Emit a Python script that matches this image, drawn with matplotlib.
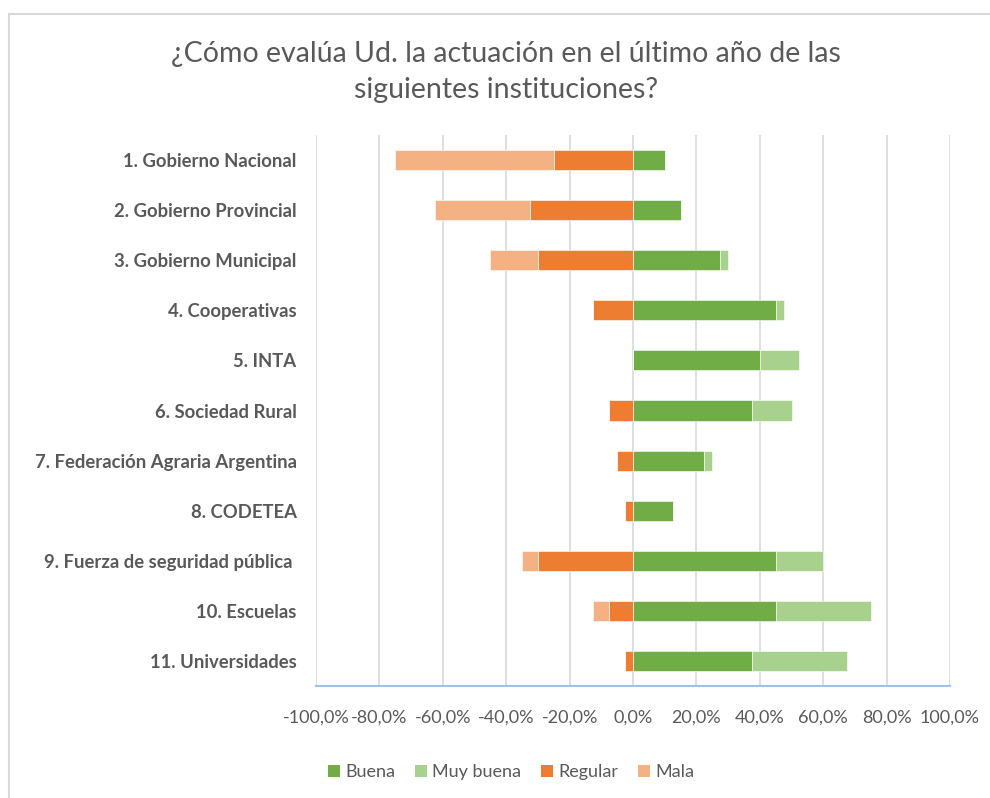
import matplotlib
matplotlib.use('Agg')
import matplotlib.pyplot as plt
from matplotlib.patches import Patch
from matplotlib.lines import Line2D
import numpy as np

# datos (porcentajes)
instituciones = [
    '1. Gobierno Nacional',
    '2. Gobierno Provincial',
    '3. Gobierno Municipal',
    '4. Cooperativas',
    '5. INTA',
    '6. Sociedad Rural',
    '7. Federación Agraria Argentina',
    '8. CODETEA',
    '9. Fuerza de seguridad pública ',
    '10. Escuelas',
    '11. Universidades',
]
buena = [10, 15, 27.5, 45, 40, 37.5, 22.5, 12.5, 45, 45, 37.5]
muy_buena = [0, 0, 2.5, 2.5, 12.5, 12.5, 2.5, 0, 15, 30, 30]
regular = [25, 32.5, 30, 12.5, 0, 7.5, 5, 2.5, 30, 7.5, 2.5]
mala = [50, 30, 15, 0, 0, 0, 0, 0, 5, 5, 0]

titulo = '¿Cómo evalúa Ud. la actuación en el último año de las\nsiguientes instituciones?'
ticks = [-100, -80, -60, -40, -20, 0, 20, 40, 60, 80, 100]

colores = {'Buena': '#70AD47', 'Muy buena': '#A9D18E',
           'Regular': '#ED7D31', 'Mala': '#F4B183'}
gris = '#595959'

plt.rcParams['font.family'] = ['Lato', 'DejaVu Sans']

fig = plt.figure(figsize=(9.9, 7.98), dpi=100)
ax = fig.add_axes([316 / 990, 1 - 686 / 798, 634 / 990, 551 / 798])

y = np.arange(len(instituciones))
b = np.array(buena)
mb = np.array(muy_buena)
r = np.array(regular)
m = np.array(mala)
h = 0.4

ax.barh(y, b, height=h, color=colores['Buena'], edgecolor='white', linewidth=0.4, zorder=3)
ax.barh(y, mb, left=b, height=h, color=colores['Muy buena'], edgecolor='white', linewidth=0.4, zorder=3)
ax.barh(y, -r, height=h, color=colores['Regular'], edgecolor='white', linewidth=0.4, zorder=3)
ax.barh(y, -m, left=-r, height=h, color=colores['Mala'], edgecolor='white', linewidth=0.4, zorder=3)

ax.set_xlim(-100, 100)
ax.set_ylim(len(instituciones) - 0.5, -0.5)
ax.set_xticks(ticks)
ax.set_xticklabels([('%.1f%%' % t).replace('.', ',') for t in ticks],
                   fontsize=13, color=gris)
ax.set_yticks(y)
ax.set_yticklabels(instituciones, fontsize=13.3, color=gris, fontweight='bold')
ax.tick_params(axis='x', length=0, pad=17)
ax.tick_params(axis='y', length=0, pad=14)

ax.grid(axis='x', color='#d9d9d9', linewidth=1.2, zorder=0)
for s in ['top', 'left', 'right']:
    ax.spines[s].set_visible(False)
ax.spines['bottom'].set_color('#9dc3e6')
ax.spines['bottom'].set_linewidth(1.5)

fig.text(506 / 990, 1 - 72 / 798, titulo, ha='center', va='center',
         fontsize=20.5, color=gris, fontweight='normal', linespacing=1.5)

handles = [Patch(facecolor=c, edgecolor='none', label=k) for k, c in colores.items()]
fig.legend(handles=handles, loc='center', bbox_to_anchor=(511 / 990, 1 - 772 / 798),
           ncol=4, frameon=False, fontsize=13, labelcolor=gris,
           handlelength=0.65, handleheight=0.65, handletextpad=0.3, columnspacing=1.1)

# marco del grafico
fig.add_artist(Line2D([9 / 990, 9 / 990], [0, 1 - 14 / 798], transform=fig.transFigure,
                      color='#d9d9d9', linewidth=1.5))
fig.add_artist(Line2D([9 / 990, 1], [1 - 14 / 798, 1 - 14 / 798], transform=fig.transFigure,
                      color='#d9d9d9', linewidth=1.5))

fig.savefig('out.png', dpi=100)
